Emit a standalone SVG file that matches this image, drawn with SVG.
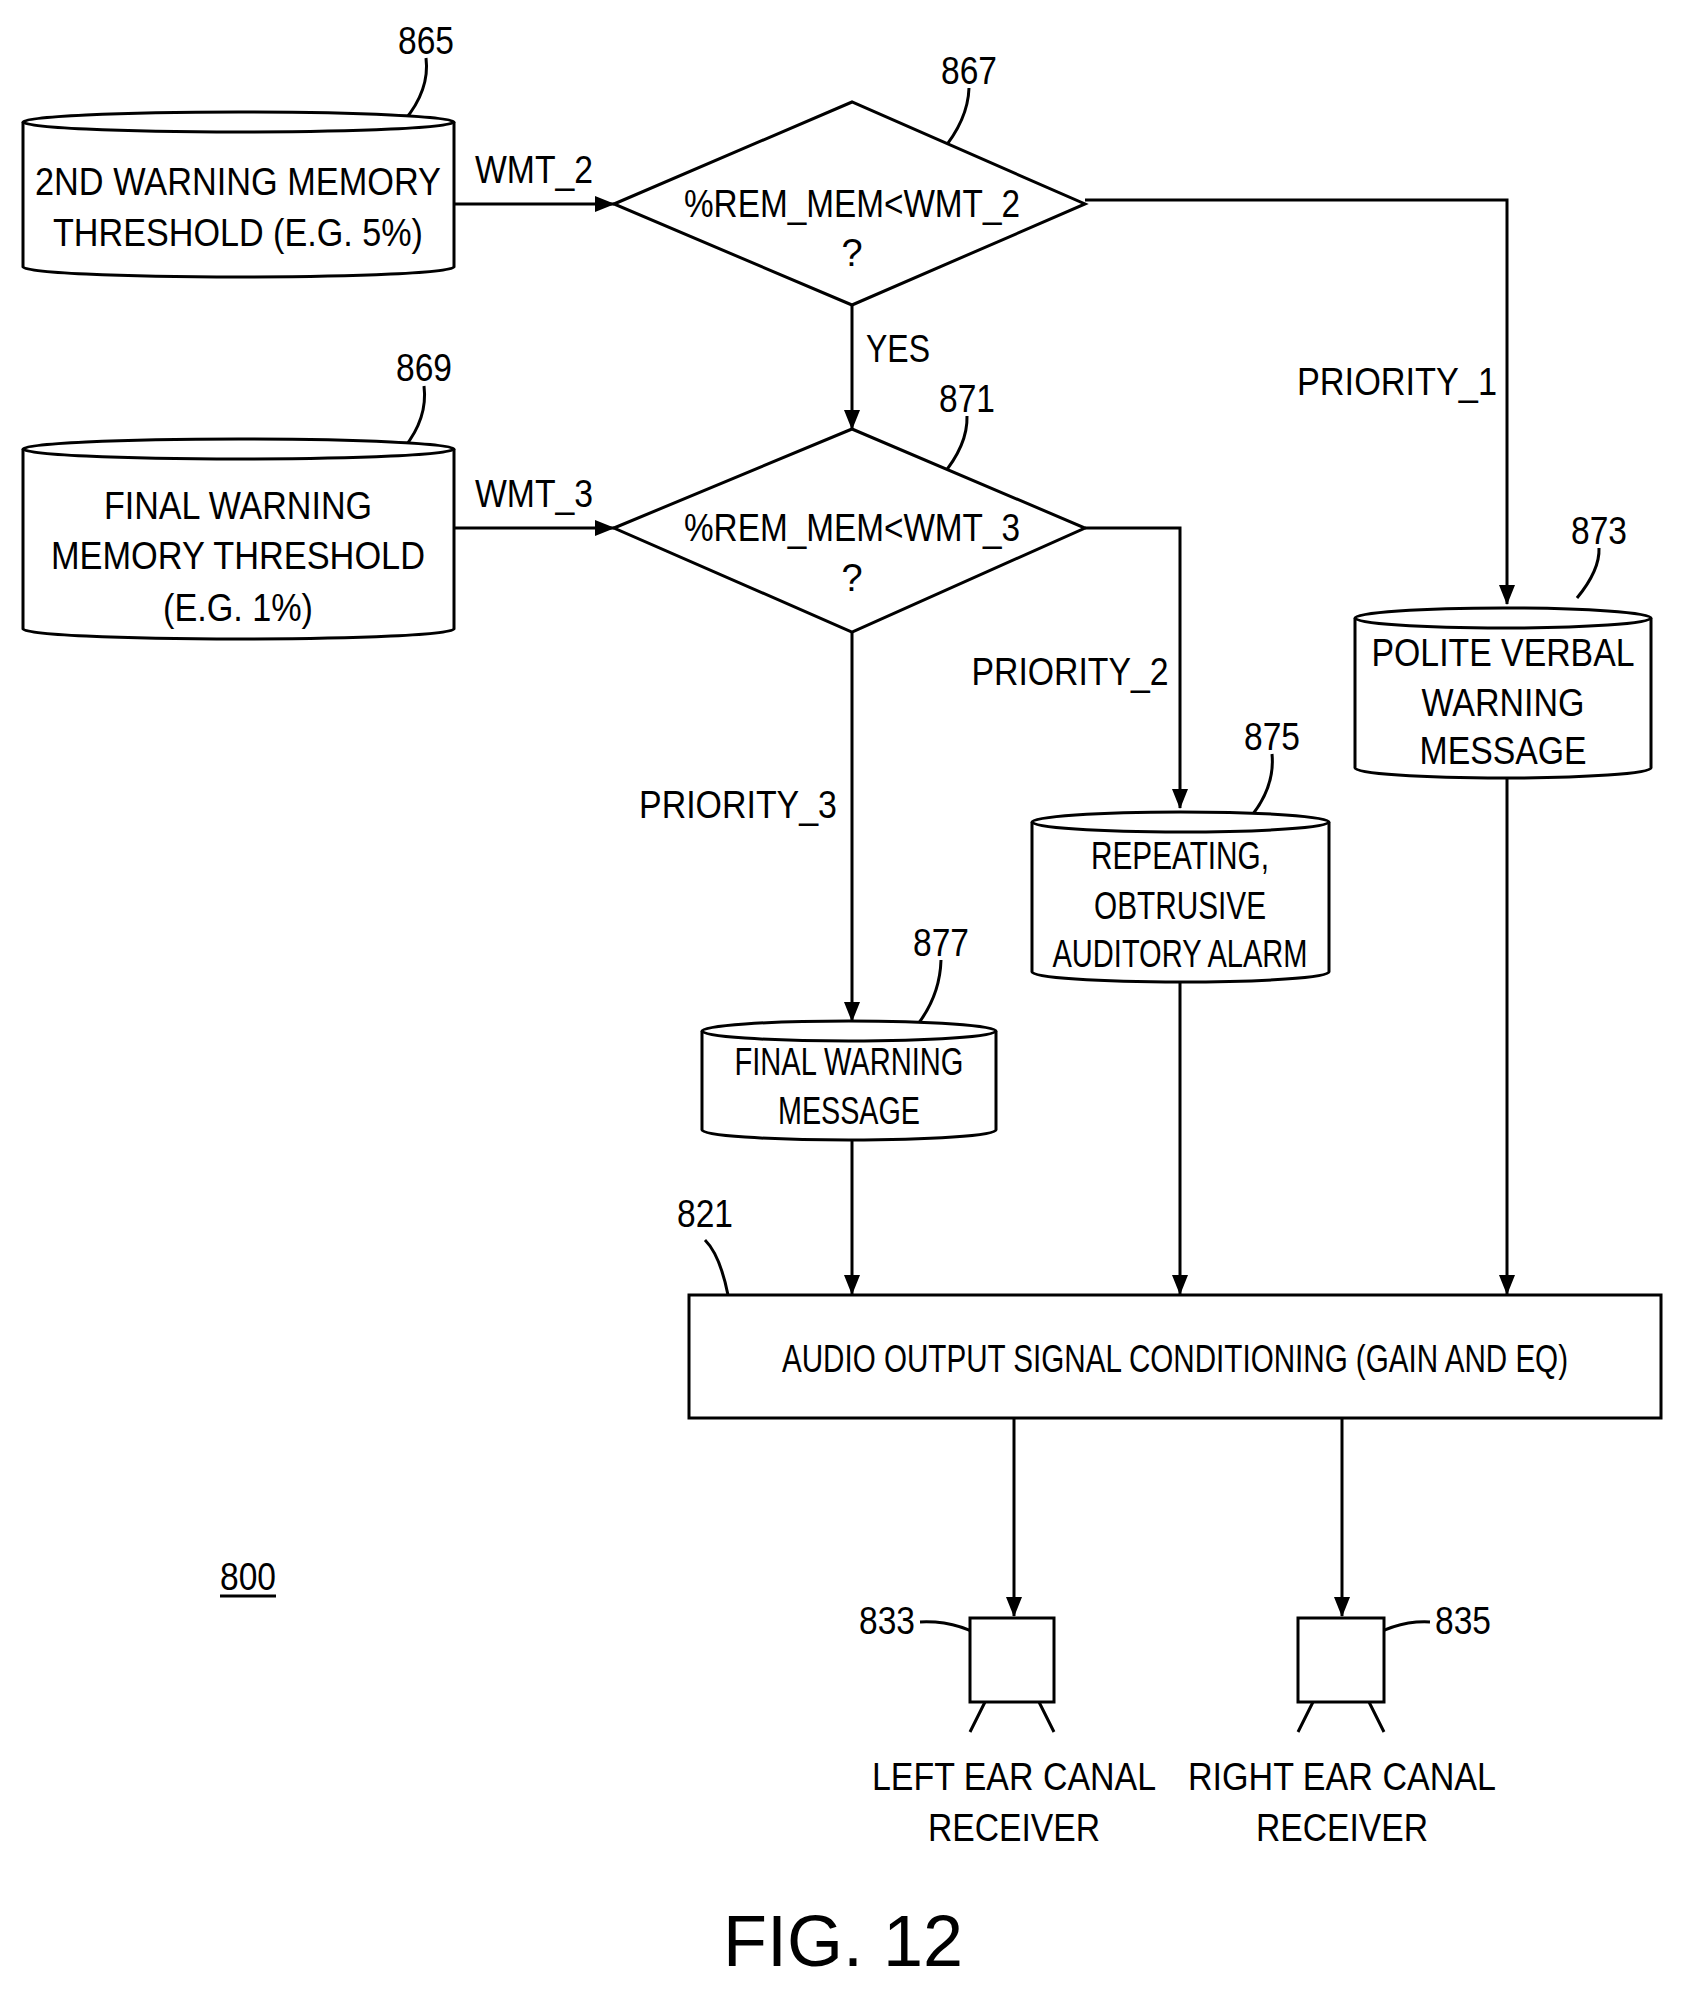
<svg xmlns="http://www.w3.org/2000/svg" width="1682" height="1992" viewBox="0 0 1682 1992">
<style>
text{font-family:"Liberation Sans",Arial,sans-serif;font-size:38px;fill:#000;text-anchor:middle}
.s{fill:none;stroke:#000;stroke-width:3}
.w{fill:#fff;stroke:#000;stroke-width:3}
</style>
<defs>
<marker id="b" markerWidth="20" markerHeight="16" refX="19" refY="8" orient="auto" markerUnits="userSpaceOnUse" viewBox="0 0 20 16"><path d="M0,0L20,8L0,16z"/></marker></defs>
<rect width="1682" height="1992" fill="#fff"/>
<g id="connectors" class="s">
<path d="M454,204H614" marker-end="url(#b)"/>
<path d="M454,528H614" marker-end="url(#b)"/>
<path d="M852,305V429" marker-end="url(#b)"/>
<path d="M1085,200H1507V604" marker-end="url(#b)"/>
<path d="M1085,528H1180V808" marker-end="url(#b)"/>
<path d="M852,632V1021" marker-end="url(#b)"/>
<path d="M852,1138V1294" marker-end="url(#b)"/>
<path d="M1180,980V1294" marker-end="url(#b)"/>
<path d="M1507,778V1294" marker-end="url(#b)"/>
<path d="M1014,1418V1616" marker-end="url(#b)"/>
<path d="M1342,1418V1616" marker-end="url(#b)"/>
<path d="M404,121Q430,90 426,58"/><path d="M404,448Q428,418 424,386"/><path d="M941,152Q968,120 969,88"/><path d="M941,477Q968,445 967,416"/>
<path d="M1577,598Q1600,570 1599,548"/><path d="M1253,814Q1275,785 1272,754"/><path d="M918,1024Q940,995 941,960"/>
<path d="M728,1295Q720,1255 705,1240"/><path d="M992,1643Q960,1620 920,1622"/><path d="M1361,1643Q1395,1620 1430,1622"/>
</g>
<g stroke="none">
<text x="534" y="183" textLength="118" lengthAdjust="spacingAndGlyphs">WMT_2</text>
<text x="534" y="507" textLength="118" lengthAdjust="spacingAndGlyphs">WMT_3</text>
<text x="898" y="362" textLength="64" lengthAdjust="spacingAndGlyphs">YES</text>
<text x="1397" y="395" textLength="200" lengthAdjust="spacingAndGlyphs">PRIORITY_1</text>
<text x="1070" y="685" textLength="197" lengthAdjust="spacingAndGlyphs">PRIORITY_2</text>
<text x="738" y="818" textLength="198" lengthAdjust="spacingAndGlyphs">PRIORITY_3</text>
</g>
<g id="n865"><path class="w" d="M23,122A215,10 0 0 1 454,122V267A215,10 0 0 1 23,267Z"/><path class="s" d="M23,122A215,10 0 0 0 454,122"/>
<text x="238" y="195" textLength="406" lengthAdjust="spacingAndGlyphs">2ND WARNING MEMORY</text>
<text x="238" y="246" textLength="370" lengthAdjust="spacingAndGlyphs">THRESHOLD (E.G. 5%)</text>
<text x="426" y="54" textLength="56" lengthAdjust="spacingAndGlyphs">865</text></g>
<g id="n869"><path class="w" d="M23,449A215,10 0 0 1 454,449V629A215,10 0 0 1 23,629Z"/><path class="s" d="M23,449A215,10 0 0 0 454,449"/>
<text x="238" y="519" textLength="268" lengthAdjust="spacingAndGlyphs">FINAL WARNING</text>
<text x="238" y="569" textLength="374" lengthAdjust="spacingAndGlyphs">MEMORY THRESHOLD</text>
<text x="238" y="621" textLength="150" lengthAdjust="spacingAndGlyphs">(E.G. 1%)</text>
<text x="424" y="381" textLength="56" lengthAdjust="spacingAndGlyphs">869</text></g>
<g id="n867"><path class="w" d="M614,204L852,102L1085,204L852,305Z"/>
<text x="852" y="217" textLength="336" lengthAdjust="spacingAndGlyphs">%REM_MEM&lt;WMT_2</text>
<text x="852" y="266">?</text>
<text x="969" y="84" textLength="56" lengthAdjust="spacingAndGlyphs">867</text></g>
<g id="n871"><path class="w" d="M614,528L852,429L1085,528L852,632Z"/>
<text x="852" y="541" textLength="336" lengthAdjust="spacingAndGlyphs">%REM_MEM&lt;WMT_3</text>
<text x="852" y="591">?</text>
<text x="967" y="412" textLength="56" lengthAdjust="spacingAndGlyphs">871</text></g>
<g id="n873"><path class="w" d="M1355,618A148,10 0 0 1 1651,618V768A148,10 0 0 1 1355,768Z"/><path class="s" d="M1355,618A148,10 0 0 0 1651,618"/>
<text x="1503" y="666" textLength="263" lengthAdjust="spacingAndGlyphs">POLITE VERBAL</text>
<text x="1503" y="716" textLength="163" lengthAdjust="spacingAndGlyphs">WARNING</text>
<text x="1503" y="764" textLength="167" lengthAdjust="spacingAndGlyphs">MESSAGE</text>
<text x="1599" y="544" textLength="56" lengthAdjust="spacingAndGlyphs">873</text></g>
<g id="n875"><path class="w" d="M1032,822A148,10 0 0 1 1329,822V972A148,10 0 0 1 1032,972Z"/><path class="s" d="M1032,822A148,10 0 0 0 1329,822"/>
<text x="1180" y="869" textLength="178" lengthAdjust="spacingAndGlyphs">REPEATING,</text>
<text x="1180" y="919" textLength="172" lengthAdjust="spacingAndGlyphs">OBTRUSIVE</text>
<text x="1180" y="967" textLength="255" lengthAdjust="spacingAndGlyphs">AUDITORY ALARM</text>
<text x="1272" y="750" textLength="56" lengthAdjust="spacingAndGlyphs">875</text></g>
<g id="n877"><path class="w" d="M702,1031A147,10 0 0 1 996,1031V1130A147,10 0 0 1 702,1130Z"/><path class="s" d="M702,1031A147,10 0 0 0 996,1031"/>
<text x="849" y="1075" textLength="229" lengthAdjust="spacingAndGlyphs">FINAL WARNING</text>
<text x="849" y="1124" textLength="142" lengthAdjust="spacingAndGlyphs">MESSAGE</text>
<text x="941" y="956" textLength="56" lengthAdjust="spacingAndGlyphs">877</text></g>
<g id="n821"><rect class="w" x="689" y="1295" width="972" height="123"/>
<text x="1175" y="1372" textLength="786" lengthAdjust="spacingAndGlyphs">AUDIO OUTPUT SIGNAL CONDITIONING (GAIN AND EQ)</text>
<text x="705" y="1227" textLength="56" lengthAdjust="spacingAndGlyphs">821</text></g>
<g id="n833"><rect class="w" x="970" y="1618" width="84" height="84"/><path class="s" d="M985,1702L970,1732M1039,1702L1054,1732"/>
<text x="1014" y="1790" textLength="284" lengthAdjust="spacingAndGlyphs">LEFT EAR CANAL</text>
<text x="1014" y="1841" textLength="172" lengthAdjust="spacingAndGlyphs">RECEIVER</text>
<text x="887" y="1634" textLength="56" lengthAdjust="spacingAndGlyphs">833</text></g>
<g id="n835"><rect class="w" x="1298" y="1618" width="86" height="84"/><path class="s" d="M1313,1702L1298,1732M1369,1702L1384,1732"/>
<text x="1342" y="1790" textLength="308" lengthAdjust="spacingAndGlyphs">RIGHT EAR CANAL</text>
<text x="1342" y="1841" textLength="172" lengthAdjust="spacingAndGlyphs">RECEIVER</text>
<text x="1463" y="1634" textLength="56" lengthAdjust="spacingAndGlyphs">835</text></g>
<g id="n800"><text x="248" y="1590" textLength="56" lengthAdjust="spacingAndGlyphs">800</text><path class="s" d="M220,1596H276" stroke-width="2"/></g>
<text x="843" y="1966" style="font-size:72px">FIG. 12</text>
</svg>
